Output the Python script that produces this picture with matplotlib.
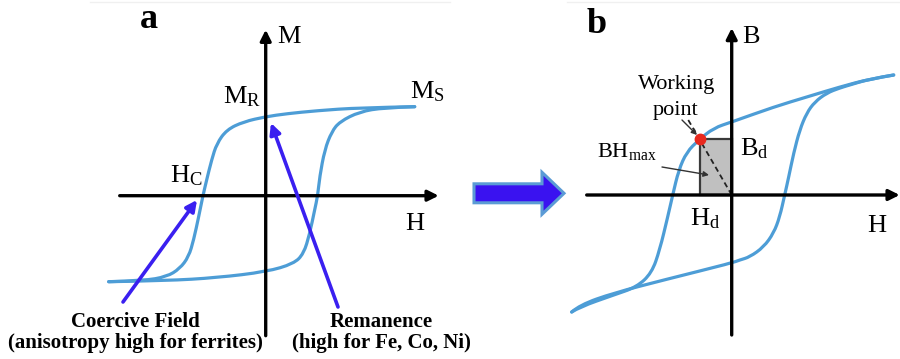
import matplotlib
matplotlib.use('Agg')
import matplotlib.pyplot as plt
from matplotlib.patches import Rectangle, FancyArrow, PathPatch
from matplotlib.path import Path

plt.rcParams['font.family'] = ['Liberation Serif', 'DejaVu Serif']
plt.rcParams['mathtext.fontset'] = 'custom'
plt.rcParams['mathtext.rm'] = 'Liberation Serif'
plt.rcParams['mathtext.it'] = 'Liberation Serif:italic'
plt.rcParams['mathtext.bf'] = 'Liberation Serif:bold'

# ---------------- data (schematic units, origin at axis crossing) ----------------
# panel a : M-H hysteresis loop
a_upper_H = [149, 94, 51, 21, 0, -22, -39, -49, -54, -59, -63, -67, -72, -77, -86, -99, -122, -157]
a_upper_M = [89, 88, 85, 82, 79, 74, 66, 52, 36, 16, -1, -21, -44, -61, -73, -81, -85, -86]
a_lower_H = [-157, -99, -49, 1, 28, 38, 44, 49, 52, 54, 59, 66, 74, 94, 118, 149]
a_lower_M = [-86, -85, -82, -76, -68, -58, -38, -14, 0, 19, 46, 64, 74, 84, 88, 89]

# panel b : B-H hysteresis loop
b_upper_H = [162, 138, 108, 75, 42, 0, -18, -33, -45, -53, -59, -64, -72, -80, -95, -118, -152, -160]
b_upper_B = [120, 116, 108, 98, 88, 73, 67, 55, 43, 25, 0, -22, -55, -78, -92, -100, -112, -117]
b_lower_H = [-160, -152, -118, -68, 0, 8, 18, 32, 42, 48, 53, 57, 62, 68, 75, 83, 95, 108, 118, 138, 162]
b_lower_B = [-117, -110, -98, -85, -68, -65, -62, -52, -38, -22, 0, 18, 42, 65, 82, 93, 102, 107, 110, 116, 120]

# working point (H_d, B_d) and load line end
Hd, Bd = -32, 56
load_H = [0, -44]
load_B = [0, 76]

W, HT = 900, 359
CURVE = '#4d9dd6'
ANN = '#3a1ff0'

fig = plt.figure(figsize=(9, 3.59), dpi=100)
fig.patch.set_facecolor('white')


def panel(x0, x1, ox, oy):
    ax = fig.add_axes([x0 / W, 0, (x1 - x0) / W, 1])
    ax.set_xlim(x0 - ox, x1 - ox)
    ax.set_ylim(oy - HT, oy)
    ax.axis('off')
    return ax


def smooth_curve(ax, xs, ys, **kw):
    """Draw a smooth quadratic B-spline path with the given points as control points."""
    pts = list(zip(xs, ys))
    verts = [pts[0]]
    codes = [Path.MOVETO]
    for i in range(1, len(pts) - 1):
        mid = ((pts[i][0] + pts[i + 1][0]) / 2, (pts[i][1] + pts[i + 1][1]) / 2)
        if i == len(pts) - 2:
            mid = pts[i + 1]
        verts += [pts[i], mid]
        codes += [Path.CURVE3, Path.CURVE3]
    ax.add_patch(PathPatch(Path(verts, codes), fill=False, **kw))


axa = panel(0, 450, 265.7, 195.7)
axb = panel(450, 900, 731.7, 195)
over = fig.add_axes([0, 0, 1, 1])
over.set_xlim(0, W)
over.set_ylim(HT, 0)
over.axis('off')
over.patch.set_alpha(0)

axis_kw = dict(arrowstyle='-|>', lw=2.4, color='black', mutation_scale=16,
               shrinkA=0, shrinkB=0)
curve_kw = dict(edgecolor=CURVE, lw=2.3, joinstyle='round', capstyle='round', zorder=2)

# ---------- panel a ----------
smooth_curve(axa, a_upper_H, a_upper_M, **curve_kw)
smooth_curve(axa, a_lower_H, a_lower_M, **curve_kw)
axa.annotate('', xy=(173, 0), xytext=(-146, 0), arrowprops=axis_kw, zorder=3)
axa.annotate('', xy=(0, 166), xytext=(0, -140), arrowprops=axis_kw, zorder=3)

# ---------- panel b ----------
axb.add_patch(Rectangle((Hd, 0), -Hd, Bd, facecolor='#c0c0c0', edgecolor='#3a3a3a', lw=1.6, zorder=1))
smooth_curve(axb, b_upper_H, b_upper_B, **curve_kw)
smooth_curve(axb, b_lower_H, b_lower_B, **curve_kw)
axb.plot(load_H, load_B, color='#222222', lw=1.3, ls=(0, (3, 2)), zorder=3)
axb.annotate('', xy=(168, 0), xytext=(-145, 0), arrowprops=axis_kw, zorder=3)
axb.annotate('', xy=(0, 167), xytext=(0, -140), arrowprops=axis_kw, zorder=3)
axb.plot([Hd], [Bd], 'o', color='#e8281e', ms=7.5, mec='#e8281e', zorder=5)

# ---------- overlay: arrows and texts ----------
over.plot([90, 450], [2, 2], color='#f0f0f0', lw=1)
over.plot([567, 900], [2, 2], color='#f0f0f0', lw=1)

blue_kw = dict(arrowstyle='-|>', lw=2.6, color=ANN, mutation_scale=16, shrinkA=0, shrinkB=0)
over.annotate('', xy=(197, 200), xytext=(123, 302), arrowprops=blue_kw)
over.annotate('', xy=(271, 123), xytext=(338, 307), arrowprops=blue_kw)

over.add_patch(FancyArrow(474, 193.3, 90, 0, width=19, head_width=42, head_length=22,
                          length_includes_head=True, facecolor='#3a12f0', edgecolor='#5b9bd5', lw=2.2))

small_kw = dict(arrowstyle='-|>', lw=1.0, color='#333333', mutation_scale=8, shrinkA=0, shrinkB=0)
over.annotate('', xy=(697, 135), xytext=(682, 120), arrowprops=small_kw)
over.annotate('', xy=(709, 175), xytext=(662, 167), arrowprops=small_kw)

T = dict(ha='left', va='baseline', color='black')
over.text(140, 28, 'a', fontsize=26, fontweight='bold', **T)
over.text(587, 33, 'b', fontsize=26, fontweight='bold', **T)
over.text(277, 43, 'M', fontsize=19, **T)
over.text(223, 103, r'$\mathrm{M}_{\mathrm{R}}$', fontsize=19, **T)
over.text(410, 98, r'$\mathrm{M}_{\mathrm{S}}$', fontsize=19, **T)
over.text(170, 182, r'$\mathrm{H}_{\mathrm{C}}$', fontsize=19, **T)
over.text(405, 230, 'H', fontsize=19, **T)
over.text(742, 43, 'B', fontsize=19, **T)
over.text(740, 155, r'$\mathrm{B}_{\mathrm{d}}$', fontsize=19, **T)
over.text(690, 225, r'$\mathrm{H}_{\mathrm{d}}$', fontsize=19, **T)
over.text(867, 232, 'H', fontsize=19, **T)
over.text(597, 157, r'$\mathrm{BH}_{\mathrm{max}}$', fontsize=16, **T)
over.text(677, 88.5, 'Working', fontsize=16, ha='center', va='baseline')
over.text(676, 115, 'point', fontsize=16, ha='center', va='baseline')

B = dict(ha='center', va='baseline', fontsize=15, fontweight='bold')
over.text(135, 327, 'Coercive Field', **B)
over.text(135, 348, '(anisotropy high for ferrites)', **B)
over.text(381, 327, 'Remanence', **B)
over.text(381, 348, '(high for Fe, Co, Ni)', **B)

fig.savefig('out.png', dpi=100, facecolor='white')
